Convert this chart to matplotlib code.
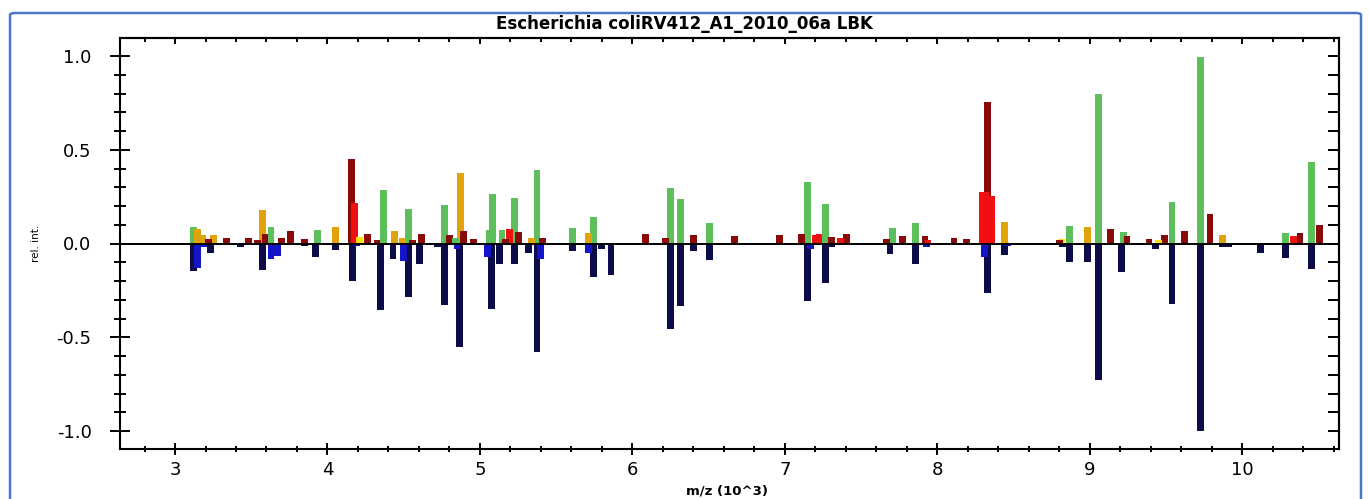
import matplotlib
matplotlib.use("Agg")
import matplotlib.pyplot as plt
import numpy as np
from matplotlib.patches import FancyBboxPatch
from matplotlib.ticker import MultipleLocator, FixedLocator

plt.rcParams['font.family'] = ['DejaVu Sans']
plt.rcParams['axes.unicode_minus'] = False

# ---------------- data (m/z in 10^3, relative intensity) ----------------
green_mz = [3.12, 3.63, 3.935, 4.365, 4.53, 4.77, 4.84, 5.06, 5.085, 5.145, 5.225, 5.375,
            5.605, 5.745, 6.25, 6.315, 6.505, 7.15, 7.265, 7.705, 7.86, 8.87, 9.06,
            9.225, 9.54, 9.73, 10.285, 10.455]
green_val = [0.09, 0.09, 0.072, 0.286, 0.185, 0.205, 0.03, 0.07, 0.263, 0.07, 0.242, 0.393,
             0.082, 0.14, 0.298, 0.237, 0.108, 0.33, 0.21, 0.082, 0.108, 0.094, 0.80,
             0.064, 0.222, 0.995, 0.058, 0.437]

gold_mz = [3.15, 3.18, 3.25, 3.575, 4.05, 4.44, 4.49, 4.87, 5.34, 5.71, 8.44, 8.985, 9.87]
gold_val = [0.08, 0.045, 0.045, 0.18, 0.09, 0.066, 0.03, 0.375, 0.03, 0.058, 0.117, 0.09, 0.044]

yellow_mz = [4.21, 8.815, 9.45]
yellow_val = [0.037, 0.024, 0.02]

darkred_mz = [3.22, 3.335, 3.48, 3.54, 3.59, 3.70, 3.76, 3.85, 4.16, 4.26, 4.325, 4.56,
              4.615, 4.80, 4.895, 4.96, 5.17, 5.255, 5.41, 6.085, 6.215, 6.40, 6.67,
              6.965, 7.11, 7.305, 7.405, 7.67, 7.77, 7.92, 8.11, 8.19, 8.33, 8.80,
              9.135, 9.245, 9.39, 9.49, 9.62, 9.79, 10.38, 10.51]
darkred_val = [0.023, 0.027, 0.032, 0.02, 0.052, 0.027, 0.068, 0.026, 0.45, 0.052, 0.02, 0.02,
               0.052, 0.045, 0.068, 0.026, 0.026, 0.06, 0.032, 0.05, 0.03, 0.044, 0.04,
               0.044, 0.052, 0.037, 0.05, 0.024, 0.042, 0.042, 0.03, 0.026, 0.755, 0.02,
               0.077, 0.04, 0.026, 0.044, 0.066, 0.158, 0.058, 0.098]

red_mz = [4.175, 5.195, 7.20, 7.225, 7.365, 7.94, 8.295, 8.32, 8.36, 10.34]
red_val = [0.215, 0.077, 0.044, 0.05, 0.032, 0.02, 0.274, 0.274, 0.254, 0.04]

navy_mz = [3.12, 3.235, 3.43, 3.575, 3.85, 3.92, 4.05, 4.165, 4.35, 4.43, 4.53, 4.605,
           4.72, 4.77, 4.865, 5.075, 5.13, 5.225, 5.32, 5.375, 5.605, 5.65, 5.745,
           5.795, 5.86, 6.25, 6.315, 6.40, 6.505, 7.15, 7.265, 7.31, 7.69, 7.86,
           8.33, 8.44, 8.82, 8.87, 8.985, 9.06, 9.21, 9.435, 9.54, 9.73, 9.87, 9.91,
           10.12, 10.285, 10.455]
navy_val = [-0.146, -0.052, -0.016, -0.14, -0.013, -0.072, -0.033, -0.20, -0.357, -0.085,
            -0.283, -0.11, -0.02, -0.327, -0.553, -0.35, -0.11, -0.11, -0.048, -0.58,
            -0.04, -0.01, -0.18, -0.028, -0.168, -0.457, -0.332, -0.04, -0.09, -0.305,
            -0.21, -0.02, -0.055, -0.108, -0.263, -0.06, -0.02, -0.096, -0.096, -0.73,
            -0.15, -0.028, -0.32, -1.0, -0.02, -0.02, -0.048, -0.078, -0.135]

blue_mz = [3.15, 3.19, 3.63, 3.67, 4.19, 4.50, 4.85, 5.05, 5.40, 5.71, 7.17, 7.93, 8.31, 8.46]
blue_val = [-0.128, -0.02, -0.083, -0.065, -0.015, -0.092, -0.03, -0.07, -0.085, -0.052,
            -0.03, -0.02, -0.07, -0.015]

x_ticks = [3, 4, 5, 6, 7, 8, 9, 10]
x_ticklabels = ['3', '4', '5', '6', '7', '8', '9', '10']
y_ticks = [-1.0, -0.5, 0.0, 0.5, 1.0]
y_ticklabels = ['-1.0', '-0.5', '0.0', '0.5', '1.0']

title = 'Escherichia coliRV412_A1_2010_06a LBK'
xlabel = 'm/z (10^3)'
ylabel = 'rel. int.'

# ---------------- styling ----------------
colors = {
    'green': '#5cbf5c',
    'gold': '#e0a30c',
    'yellow': '#ffe21a',
    'darkred': '#8a0a0a',
    'red': '#f01010',
    'navy': '#0c0c48',
    'blue': '#1414c8',
}
series = [
    (green_mz, green_val, colors['green']),
    (gold_mz, gold_val, colors['gold']),
    (yellow_mz, yellow_val, colors['yellow']),
    (darkred_mz, darkred_val, colors['darkred']),
    (red_mz, red_val, colors['red']),
    (navy_mz, navy_val, colors['navy']),
    (blue_mz, blue_val, colors['blue']),
]
all_x, all_v, all_c = [], [], []
for xs, vs, c in series:
    all_x += list(xs)
    all_v += list(vs)
    all_c += [c] * len(xs)
all_x = np.array(all_x)
all_v = np.array(all_v)
all_c = np.array(all_c)
order = np.argsort(-np.abs(all_v), kind='stable')  # tallest drawn first

W, H = 1370, 499
fig = plt.figure(figsize=(W / 100, H / 100), dpi=100)
ax = fig.add_axes([120 / W, 1 - 449 / H, (1339 - 120) / W, (449 - 38) / H])

ax.bar(all_x[order], all_v[order], width=0.045, color=all_c[order], linewidth=0, zorder=2)
ax.axhline(0, color='black', lw=1.4, zorder=3)

ax.set_xlim(2.639, 10.636)
ax.set_ylim(-1.096, 1.096)

ax.xaxis.set_major_locator(FixedLocator(x_ticks))
ax.set_xticklabels(x_ticklabels)
ax.xaxis.set_minor_locator(MultipleLocator(0.2))
ax.yaxis.set_major_locator(FixedLocator(y_ticks))
ax.set_yticklabels(y_ticklabels)
ax.yaxis.set_minor_locator(MultipleLocator(0.1))

for s in ax.spines.values():
    s.set_linewidth(1.5)
    s.set_color('black')

ax.tick_params(axis='y', which='major', direction='inout', length=15, width=1.4,
               pad=13, labelsize=13)
ax.tick_params(axis='y', which='minor', direction='inout', length=8, width=1.4)
ax.tick_params(axis='x', which='major', direction='inout', length=8.6, width=1.4,
               pad=4, labelsize=13)
ax.tick_params(axis='x', which='minor', direction='inout', length=4.3, width=1.4)

secx = ax.secondary_xaxis('top')
secx.xaxis.set_major_locator(FixedLocator(x_ticks))
secx.xaxis.set_minor_locator(MultipleLocator(0.2))
secx.tick_params(which='major', direction='in', length=4.5, width=1.4, labeltop=False)
secx.tick_params(which='minor', direction='in', length=3, width=1.4)
secx.spines['top'].set_linewidth(1.5)

secy = ax.secondary_yaxis('right')
secy.yaxis.set_major_locator(FixedLocator(y_ticks))
secy.yaxis.set_minor_locator(MultipleLocator(0.1))
secy.tick_params(which='major', direction='in', length=8, width=1.4, labelright=False)
secy.tick_params(which='minor', direction='in', length=8, width=1.4)
secy.spines['right'].set_linewidth(1.5)

fig.text(684 / W, 1 - 24 / H, title, ha='center', va='center', fontsize=12,
         fontweight='bold')
fig.text(727 / W, 1 - 491 / H, xlabel, ha='center', va='center', fontsize=9.5,
         fontweight='bold')
fig.text(36 / W, 1 - 243 / H, ylabel, ha='center', va='center', fontsize=7.5,
         rotation=90)

# outer blue frame
frame = FancyBboxPatch((10 / W, -0.05), (1361 - 10) / W, 1 - 13 / H + 0.05,
                       boxstyle='round,pad=0,rounding_size=0.004',
                       transform=fig.transFigure, fill=False,
                       edgecolor='#4a78c8', linewidth=1.8, zorder=0)
fig.patches.append(frame)

fig.savefig('out.png', dpi=100)
